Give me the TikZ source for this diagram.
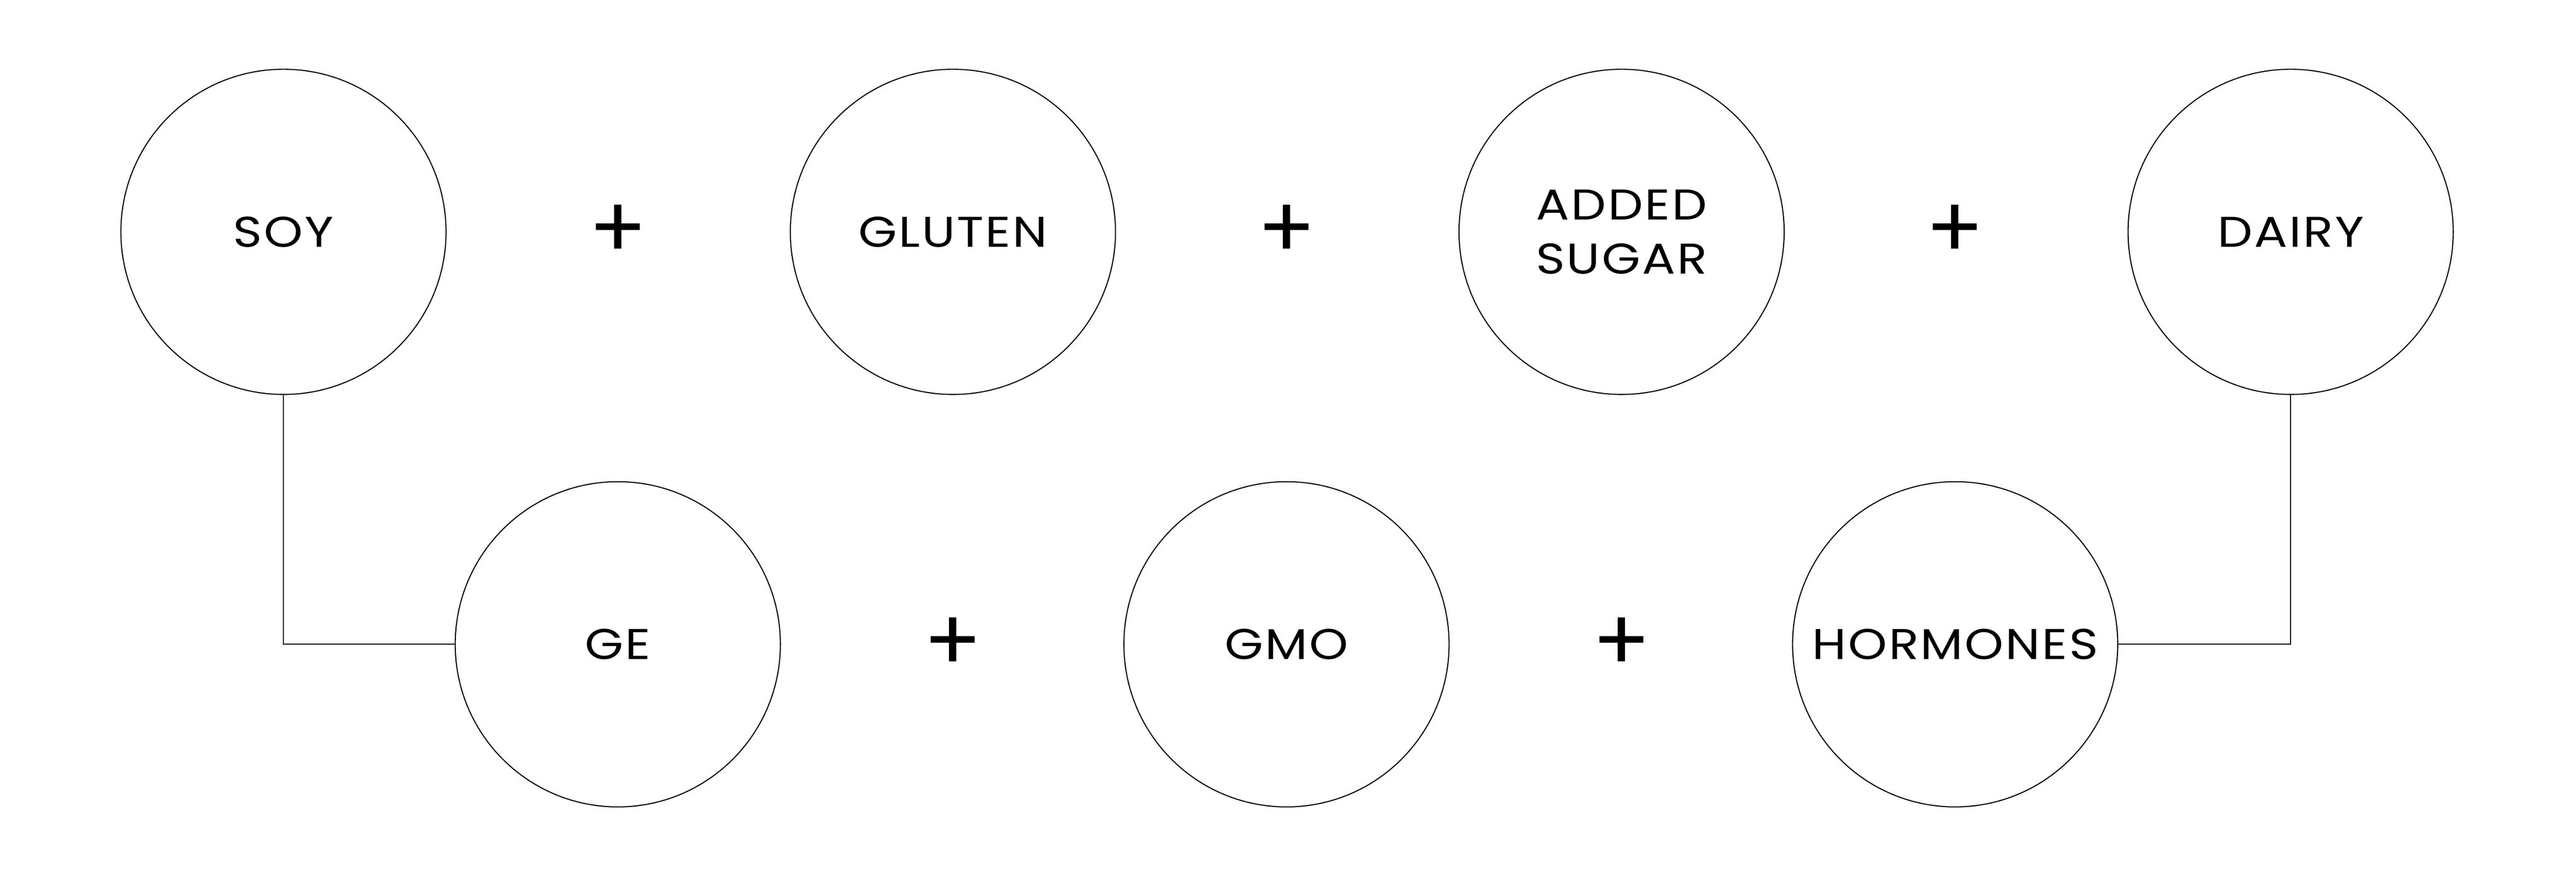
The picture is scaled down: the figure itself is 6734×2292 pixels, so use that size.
\documentclass[tikz,border=0pt]{standalone}
\usepackage{fontspec}
\setmainfont{Poppins}
\newfontfamily\labelfont{Poppins}[FakeStretch=1.15, LetterSpace=4]
\begin{document}
\begin{tikzpicture}[x=0.1mm, y=-0.1mm,
    food/.style={draw, circle, line width=0.8pt, minimum size=85mm, inner sep=0pt,
        align=center, font=\labelfont\fontsize{32}{40}\selectfont},
    plus/.style={font=\fontsize{64}{64}\selectfont}]
    \useasboundingbox (0,0) rectangle (6734,2292);

    \node[food] (soy)      at (741,606)  {SOY};
    \node[food] (gluten)   at (2491,606) {GLUTEN};
    \node[food] (sugar)    at (4239,606) {ADDED\\SUGAR};
    \node[food] (dairy)    at (5988,606) {DAIRY};
    \node[food] (ge)       at (1615,1684) {GE};
    \node[food] (gmo)      at (3363,1684) {GMO};
    \node[food] (hormones) at (5111,1684) {HORMONES};

    \foreach \x/\n in {1615/plusa, 3363/plusb, 5111/plusc}
    {
        \node[plus] (\n) at (\x,606) {+};
    }
    \foreach \x/\n in {2491/plusd, 4239/pluse}
    {
        \node[plus] (\n) at (\x,1684) {+};
    }

    \draw[line width=0.8pt] (soy.south) |- (ge.west);
    \draw[line width=0.8pt] (dairy.south) |- (hormones.east);
\end{tikzpicture}
\end{document}
